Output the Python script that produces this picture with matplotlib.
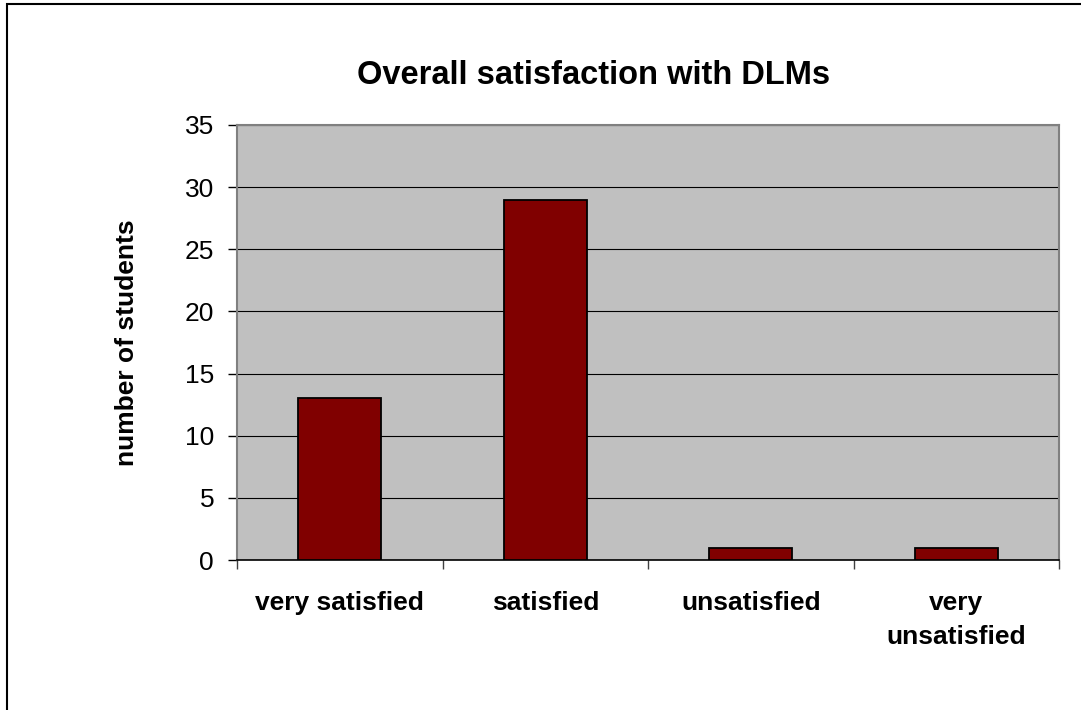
"""Bar chart: overall satisfaction with DLMs."""

import matplotlib

matplotlib.use("Agg")
import matplotlib.pyplot as plt
from matplotlib.patches import Rectangle
from matplotlib.ticker import FixedLocator

plt.rcParams["font.family"] = ["Liberation Sans", "DejaVu Sans"]

categories = ["very satisfied", "satisfied", "unsatisfied", "very\nunsatisfied"]
students = [13, 29, 1, 1]
y_ticks = [0, 5, 10, 15, 20, 25, 30, 35]

W, H = 1081, 710
fig = plt.figure(figsize=(W / 100, H / 100), dpi=100)
ax = fig.add_axes([237 / W, 1 - 560 / H, (1059 - 237) / W, (560 - 125) / H])

ax.set_facecolor("#c0c0c0")
x = list(range(len(categories)))
ax.bar(x, students, width=0.405, color="#800000", edgecolor="black", linewidth=1.3, zorder=3)

ax.set_xlim(-0.5, len(categories) - 0.5)
ax.set_ylim(0, 35)
ax.set_yticks(y_ticks)
ax.grid(axis="y", color="black", linewidth=0.8, zorder=1)

ax.set_xticks(x)
ax.set_xticklabels(categories, fontsize=19, fontweight="bold", linespacing=1.55)
ax.xaxis.set_minor_locator(FixedLocator([i - 0.5 for i in range(len(categories) + 1)]))
ax.tick_params(axis="x", which="major", length=0, pad=22)
ax.tick_params(axis="x", which="minor", length=6.5, width=1.0, color="#404040")
ax.tick_params(axis="y", length=6.5, width=1.0, labelsize=19, pad=10)

for side in ("top", "right", "left"):
    ax.spines[side].set_color("#808080")
    ax.spines[side].set_linewidth(1.5)
ax.spines["bottom"].set_color("black")
ax.spines["bottom"].set_linewidth(1.2)

ax.set_ylabel("number of students", fontsize=19, fontweight="bold", labelpad=33)
fig.text(594 / W, 1 - 75 / H, "Overall satisfaction with DLMs", ha="center", va="center",
         fontsize=23.5, fontweight="bold")

# outer chart frame (right and bottom edges fall outside the picture)
fig.patches.append(Rectangle((7 / W, -0.05), 1.0, 1.05 - 4 / H, transform=fig.transFigure,
                             fill=False, edgecolor="black", linewidth=1.5))

fig.savefig("out.png", dpi=100)
plt.close(fig)
